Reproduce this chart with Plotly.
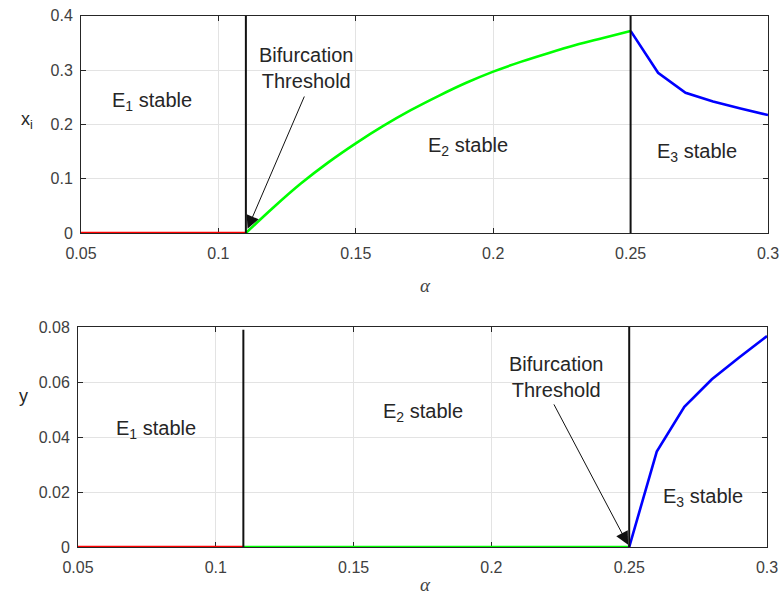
import plotly.graph_objects as go

# ---------------- data ----------------
alpha_e1 = [0.05, 0.06, 0.07, 0.08, 0.09, 0.10, 0.11]
xi_e1 = [0, 0, 0, 0, 0, 0, 0]
y_e1 = [0, 0, 0, 0, 0, 0, 0]

alpha_e2 = [0.11, 0.12, 0.13, 0.14, 0.15, 0.16, 0.17, 0.18, 0.19, 0.20,
            0.21, 0.22, 0.23, 0.24, 0.25]
xi_e2 = [0.0, 0.047, 0.091, 0.130, 0.165, 0.197, 0.226, 0.252, 0.276, 0.297,
         0.315, 0.331, 0.346, 0.359, 0.372]
y_e2 = [0] * len(alpha_e2)

alpha_e3 = [0.25, 0.26, 0.27, 0.28, 0.29, 0.30]
xi_e3 = [0.372, 0.295, 0.258, 0.242, 0.229, 0.217]
y_e3 = [0.0, 0.0347, 0.051, 0.061, 0.069, 0.0767]

thresholds = [0.11, 0.25]
top_thr_heights = [0.4, 0.4]
bot_thr_heights = [0.079, 0.08]

x_ticks = [0.05, 0.1, 0.15, 0.2, 0.25, 0.3]
x_ticklabels = ["0.05", "0.1", "0.15", "0.2", "0.25", "0.3"]
top_yticks = [0, 0.1, 0.2, 0.3, 0.4]
top_yticklabels = ["0", "0.1", "0.2", "0.3", "0.4"]
bot_yticks = [0, 0.02, 0.04, 0.06, 0.08]
bot_yticklabels = ["0", "0.02", "0.04", "0.06", "0.08"]

# ---------------- figure ----------------
RED, GREEN, BLUE = "#ff0000", "#00ff00", "#0000ff"
TXT = "#262626"
TICK = "#404040"
AX = "#262626"
FONT = "Liberation Sans, Arial, sans-serif"

fig = go.Figure()

def add_curves(xa, ya, e1, e2, e3, thr_h):
    for xs, ys, c, shp in [(alpha_e1, e1, RED, "linear"), (alpha_e2, e2, GREEN, "spline"),
                           (alpha_e3, e3, BLUE, "linear")]:
        fig.add_trace(go.Scatter(x=xs, y=ys, mode="lines",
                                 line=dict(color=c, width=2.6, shape=shp),
                                 cliponaxis=False,
                                 xaxis=xa, yaxis=ya, showlegend=False, hoverinfo="skip"))
    for t, h in zip(thresholds, thr_h):
        fig.add_trace(go.Scatter(x=[t, t], y=[0, h], mode="lines",
                                 line=dict(color="#111111", width=2), cliponaxis=False,
                                 xaxis=xa, yaxis=ya, showlegend=False, hoverinfo="skip"))

add_curves("x", "y", xi_e1, xi_e2, xi_e3, top_thr_heights)
add_curves("x2", "y2", y_e1, y_e2, y_e3, bot_thr_heights)

axis_common = dict(
    showline=True, linecolor=AX, linewidth=1, mirror="ticks",
    ticks="inside", ticklen=5, tickcolor=AX, tickwidth=1,
    showgrid=True, gridcolor="#e3e3e3", gridwidth=1, zeroline=False,
    automargin=False, layer="below traces",
    tickfont=dict(family=FONT, size=16, color=TICK),
)

fig.update_layout(
    width=784, height=608,
    margin=dict(l=0, r=0, t=0, b=0, autoexpand=False),
    paper_bgcolor="white", plot_bgcolor="white",
    xaxis=dict(domain=[81 / 784, 768 / 784], range=[0.05, 0.3], anchor="y",
               tickvals=x_ticks, ticktext=x_ticklabels, ticklabelstandoff=6, **axis_common),
    yaxis=dict(domain=[1 - 233 / 608, 1 - 15.7 / 608], range=[0, 0.4], anchor="x",
               tickvals=top_yticks, ticktext=top_yticklabels, ticklabelstandoff=4, **axis_common),
    xaxis2=dict(domain=[78 / 784, 767 / 784], range=[0.05, 0.3], anchor="y2",
                tickvals=x_ticks, ticktext=x_ticklabels, ticklabelstandoff=6, **axis_common),
    yaxis2=dict(domain=[1 - 547 / 608, 1 - 327 / 608], range=[0, 0.08], anchor="x2",
                tickvals=bot_yticks, ticktext=bot_yticklabels, ticklabelstandoff=4, **axis_common),
)

afont = dict(family=FONT, size=20, color=TXT)

def label(text, x, y, xr, yr):
    fig.add_annotation(text=text, x=x, y=y, xref=xr, yref=yr, showarrow=False,
                       font=afont, xanchor="center", yanchor="middle", align="center")

# top panel text
label("E<sub>1</sub> stable", 0.0758, 0.242, "x", "y")
label("E<sub>2</sub> stable", 0.1908, 0.160, "x", "y")
label("E<sub>3</sub> stable", 0.2742, 0.149, "x", "y")
fig.add_annotation(text="Bifurcation<br>Threshold", x=0.1322, y=0.304, xref="x", yref="y",
                   showarrow=False, font=afont, align="center")
fig.add_annotation(x=0.1106, y=0.008, ax=0.1315, ay=0.254, xref="x", yref="y",
                   axref="x", ayref="y", text="", showarrow=True, arrowhead=2,
                   arrowsize=2.6, arrowwidth=1, arrowcolor="#111111")

# bottom panel text
label("E<sub>1</sub> stable", 0.0783, 0.0428, "x2", "y2")
label("E<sub>2</sub> stable", 0.1752, 0.0489, "x2", "y2")
label("E<sub>3</sub> stable", 0.2768, 0.0180, "x2", "y2")
fig.add_annotation(text="Bifurcation<br>Threshold", x=0.2238, y=0.0618, xref="x2", yref="y2",
                   showarrow=False, font=afont, align="center")
fig.add_annotation(x=0.2496, y=0.0008, ax=0.2224, ay=0.0524, xref="x2", yref="y2",
                   axref="x2", ayref="y2", text="", showarrow=True, arrowhead=2,
                   arrowsize=2.6, arrowwidth=1, arrowcolor="#111111")

# axis titles
fig.add_annotation(text="x<sub>i</sub>", x=19 / 784, y=1 - 107 / 608, xref="paper", yref="paper",
                   showarrow=False, font=dict(family=FONT, size=18, color=TXT))
fig.add_annotation(text="y", x=17 / 784, y=1 - 408 / 608, xref="paper", yref="paper",
                   showarrow=False, font=dict(family=FONT, size=18, color=TXT))
for yy in [285, 597]:
    fig.add_annotation(text="<i>α</i>", x=425 / 784, y=1 - yy / 608, xref="paper", yref="paper",
                       showarrow=False,
                       font=dict(family="Liberation Serif, Times New Roman, serif", size=19, color="#444444"))

fig.write_html("out.html")
